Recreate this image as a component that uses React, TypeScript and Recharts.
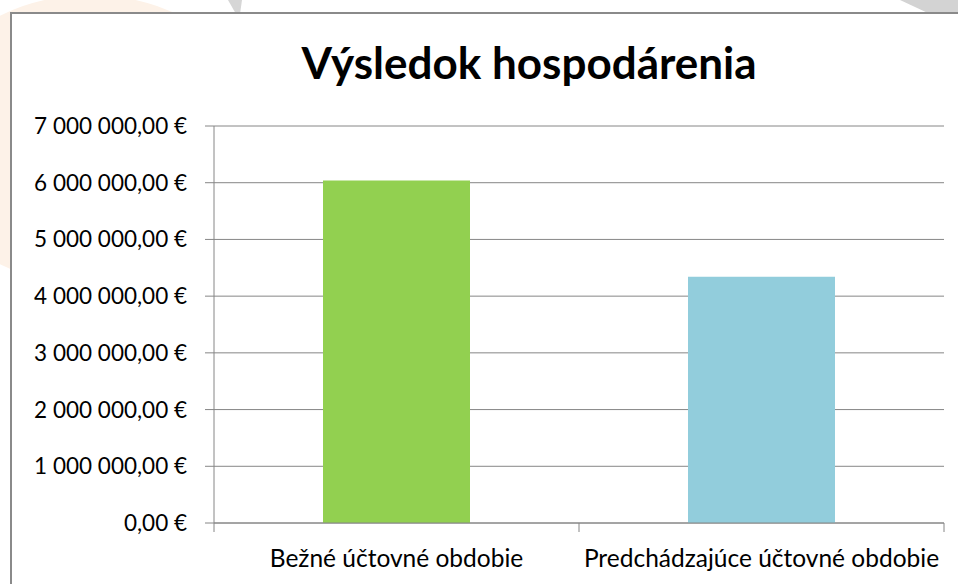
import React from "react";
import { BarChart, Bar, XAxis, YAxis, CartesianGrid, Cell } from "recharts";

const categories = ["Bežné účtovné obdobie", "Predchádzajúce účtovné obdobie"];
const values = [6040000, 4340000];
const barColors = ["#92D050", "#92CDDC"];
const yTicks = [0, 1000000, 2000000, 3000000, 4000000, 5000000, 6000000, 7000000];
const xPositions = [0, 0.5, 1, 1.5, 2];
const title = "Výsledok hospodárenia";

const data = categories.map((name, i) => ({ name, value: values[i], idx: i + 0.5 }));

const fmt = (v: number) => {
  const s = Math.round(v).toString().replace(/\B(?=(\d{3})+(?!\d))/g, " ");
  return `${s},00 €`;
};

const FONT = "Lato, 'Open Sans', sans-serif";
const GRID = "#868686";

const XTick = (props: any) => {
  const { x, y, payload } = props;
  const v = payload.value as number;
  if (Number.isInteger(v)) {
    return <line x1={x} x2={x} y1={y} y2={y + 9} stroke={GRID} strokeWidth={1} />;
  }
  const label = categories[Math.floor(v)];
  return (
    <text x={x} y={y + 44} textAnchor="middle" fill="#000" fontSize={24.5} fontFamily={FONT}>
      {label}
    </text>
  );
};

export default function App() {
  return (
    <div style={{ position: "absolute", left: 0, top: 0, width: 958, height: 584, background: "#fff", overflow: "hidden", fontFamily: FONT }}>
      <svg width={958} height={584} style={{ position: "absolute", left: 0, top: 0 }}>
        <ellipse cx={90} cy={140} rx={175} ry={145} fill="#fdf2e8" />
        <polygon points="228,0 242,0 240,14 236,14" fill="#d6d6d6" />
        <polygon points="900,0 958,0 958,14 930,14" fill="#d3d3d3" />
      </svg>
      <div style={{ position: "absolute", left: 10, top: 12, width: 970, height: 600, border: "2px solid #8a8a8a", background: "#fff" }} />
      <div style={{ position: "absolute", left: 0, top: 36, width: 1058, textAlign: "center", fontSize: 44, lineHeight: "52px", fontWeight: 700, color: "#000", fontFamily: FONT }}>
        {title}
      </div>
      <div style={{ position: "absolute", left: 0, top: 0 }}>
        <BarChart width={958} height={584} data={data} margin={{ top: 126, right: 14, bottom: 0, left: 0 }} barCategoryGap="0%">
          <CartesianGrid vertical={false} stroke={GRID} strokeWidth={1} />
          <XAxis dataKey="name" xAxisId="cat" hide />
          <XAxis
            xAxisId="bound"
            type="number"
            dataKey="idx"
            domain={[0, 2]}
            ticks={xPositions}
            interval={0}
            tick={<XTick />}
            tickSize={0}
            tickMargin={0}
            tickLine={false}
            axisLine={{ stroke: GRID }}
            height={61}
            orientation="bottom"
          />
          <YAxis
            width={214}
            domain={[0, 7000000]}
            ticks={yTicks}
            tickFormatter={fmt}
            tickSize={9}
            tickMargin={18}
            axisLine={{ stroke: GRID }}
            tickLine={{ stroke: GRID }}
            tick={{ fill: "#000", fontSize: 22.5, fontFamily: FONT }}
            interval={0}
          />
          <Bar dataKey="value" xAxisId="cat" barSize={147} isAnimationActive={false}>
            {data.map((d, i) => (
              <Cell key={d.name} fill={barColors[i]} />
            ))}
          </Bar>
        </BarChart>
      </div>
    </div>
  );
}
